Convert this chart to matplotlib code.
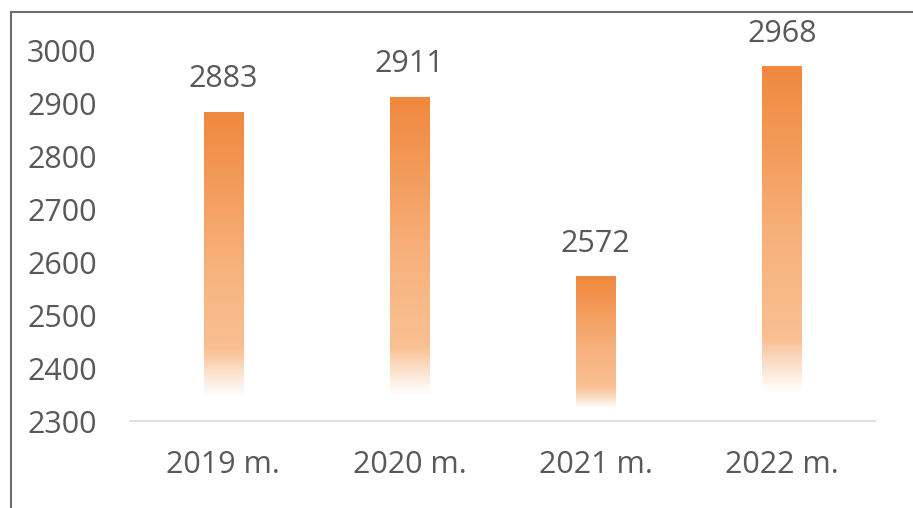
import numpy as np
import matplotlib
matplotlib.use("Agg")
import matplotlib.pyplot as plt
from matplotlib.lines import Line2D
import matplotlib.transforms as mtransforms

categories = ["2019 m.", "2020 m.", "2021 m.", "2022 m."]
values = [2883, 2911, 2572, 2968]
yticks = [2300, 2400, 2500, 2600, 2700, 2800, 2900, 3000]

plt.rcParams['font.family'] = ['Open Sans', 'DejaVu Sans']
txt = '#595959'

fig = plt.figure(figsize=(9.13, 5.08), dpi=100)
ax = fig.add_axes([130/913, 1 - 421/508, (875-130)/913, (421-50)/508])
ax.set_ylim(2300, 3000)
ax.set_xlim(-0.5, 3.5)

# gradient: t=0 bottom, t=1 top
n = 256
t = np.linspace(0, 1, n)
top = np.array([240, 136, 62]) / 255
mid = np.array([247, 178, 125]) / 255
low = np.array([251, 204, 166]) / 255
rgba = np.zeros((n, 4))
for i, tv in enumerate(t):
    if tv > 0.5:
        f = (tv - 0.5) / 0.5
        c = mid + (top - mid) * f
    else:
        f = tv / 0.5
        c = low + (mid - low) * f
    rgba[i, :3] = c
    rgba[i, 3] = np.clip((tv - 0.08) / 0.15, 0, 1)
img = rgba[::-1][:, None, :]

w = 0.21
lab_off = mtransforms.offset_copy(ax.transData, fig=fig, x=0, y=25, units='dots')
for i, v in enumerate(values):
    ax.imshow(img, extent=(i - w/2, i + w/2, 2300, v), aspect='auto', interpolation='bilinear', zorder=2)
    ax.text(i, v, str(v), ha='center', va='baseline', fontsize=22, color=txt, transform=lab_off)

ax.set_xlim(-0.5, 3.5)
ax.set_ylim(2300, 3000)
ax.set_yticks(yticks)
ax.set_yticklabels([str(y) for y in yticks], fontsize=22, color=txt)
ax.set_xticks(range(len(categories)))
ax.set_xticklabels(categories, fontsize=22, color=txt)
ax.tick_params(axis='y', length=0, pad=24)
ax.tick_params(axis='x', length=0, pad=21)
for s in ['top', 'right', 'left']:
    ax.spines[s].set_visible(False)
ax.spines['bottom'].set_color('#d9d9d9')
ax.spines['bottom'].set_linewidth(1.2)
ax.set_facecolor('none')

# frame lines
fig.add_artist(Line2D([11/913, 1], [1 - 12/508, 1 - 12/508], transform=fig.transFigure, color='#6e6e6e', lw=1.5))
fig.add_artist(Line2D([11/913, 11/913], [0, 1 - 12/508], transform=fig.transFigure, color='#6e6e6e', lw=1.5))

fig.savefig('out.png', dpi=100)
